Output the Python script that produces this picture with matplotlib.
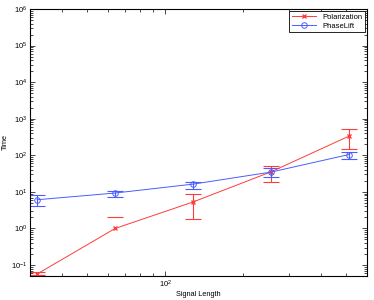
import numpy as np
import matplotlib.pyplot as plt
from matplotlib.ticker import LogLocator, NullFormatter

lengths = [32, 64, 128, 256, 512]

pol_mean = [0.057, 1.0, 5.3, 35.4, 335]
pol_lo = [0.052, np.nan, 1.8, 18.5, 148]   # lower bound off the log scale
pol_hi = [0.063, 2.0, 8.7, 52.6, 520]

pl_mean = [6.1, 9.3, 16.3, 34.8, 105]
pl_lo = [4.2, 7.4, 12.2, 25.4, 79]
pl_hi = [8.2, 10.5, 19.2, 44.8, 126]

RED = '#ff3b3b'
BLUE = '#4a5cff'

plt.rcParams['font.family'] = ['Liberation Sans', 'DejaVu Sans']

fig = plt.figure(figsize=(3.74, 3.0), dpi=100)
ax = fig.add_axes([0.080, 0.08, 0.901, 0.89])

def asym(mean, lo, hi):
    mean = np.array(mean)
    return [mean - np.array(lo), np.array(hi) - mean]

# error bars first, then the lines with markers on top
ax.errorbar(lengths, pol_mean, yerr=asym(pol_mean, pol_lo, pol_hi), fmt='none',
            ecolor=RED, elinewidth=0.8, capsize=5.5, capthick=0.8)
ax.errorbar(lengths, pl_mean, yerr=asym(pl_mean, pl_lo, pl_hi), fmt='none',
            ecolor=BLUE, elinewidth=0.8, capsize=5.5, capthick=0.8)
ax.plot(lengths, pol_mean, color=RED, marker='x', markersize=3, linewidth=0.7,
        label='Polarization')
ax.plot(lengths, pl_mean, color=BLUE, marker='o', markersize=4,
        markerfacecolor='none', markeredgewidth=0.7, linewidth=0.7,
        label='PhaseLift')

ax.set_xscale('log')
ax.set_yscale('log')
ax.set_xlim(30, 600)
ax.set_ylim(10**-1.3, 1e6)

ax.yaxis.set_major_locator(LogLocator(base=10, numticks=20))
ax.yaxis.set_minor_locator(LogLocator(base=10, subs=np.arange(2, 10), numticks=20))
ax.yaxis.set_minor_formatter(NullFormatter())
ax.xaxis.set_minor_formatter(NullFormatter())

ax.tick_params(which='both', direction='in', top=True, right=True, labelsize=5.5,
               width=0.5, pad=2)
ax.tick_params(which='major', length=3.5)
ax.tick_params(which='minor', length=2)
for s in ax.spines.values():
    s.set_linewidth(0.8)

ax.set_xlabel('Signal Length', fontsize=5.3)
ax.set_ylabel('Time', fontsize=5.3)
ax.xaxis.set_label_coords(0.5, -0.056)
ax.yaxis.set_label_coords(-0.062, 0.5)

leg = ax.legend(loc='upper right', fontsize=5.5, fancybox=False, framealpha=1,
                edgecolor='black', borderpad=0.3, handlelength=3.2,
                labelspacing=0.2, borderaxespad=0.3)
leg.get_frame().set_linewidth(0.6)

fig.savefig('out.png', dpi=100)
